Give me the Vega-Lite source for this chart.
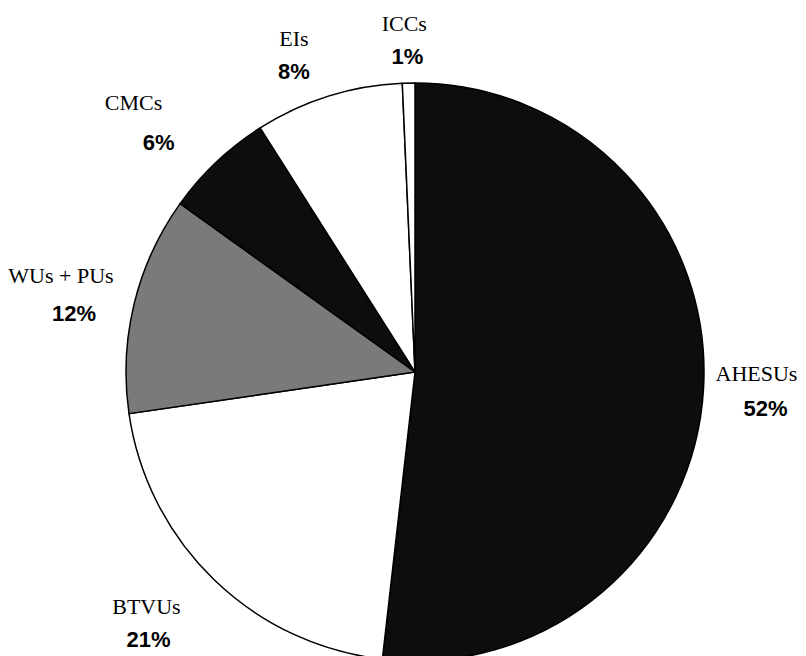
{
  "$schema": "https://vega.github.io/schema/vega-lite/v6.json",
  "width": 782,
  "height": 568,
  "autosize": "none",
  "padding": {"left": 24, "top": 88, "right": 0, "bottom": 0},
  "background": "white",
  "config": {"view": {"stroke": null}},
  "data": {"values": [
    {"rank": 1, "category": "AHESUs", "value": 51.8, "label": "52%"},
    {"rank": 2, "category": "BTVUs", "value": 20.9, "label": "21%"},
    {"rank": 3, "category": "WUs + PUs", "value": 12.2, "label": "12%"},
    {"rank": 4, "category": "CMCs", "value": 6.1, "label": "6%"},
    {"rank": 5, "category": "EIs", "value": 8.3, "label": "8%"},
    {"rank": 6, "category": "ICCs", "value": 0.7, "label": "1%"}
  ]},
  "encoding": {
    "theta": {"field": "value", "type": "quantitative", "stack": true},
    "order": {"field": "rank", "type": "quantitative"}
  },
  "layer": [
    {
      "mark": {"type": "arc", "radius": 289, "stroke": "black", "strokeWidth": 1.5},
      "encoding": {
        "fill": {
          "field": "category",
          "type": "nominal",
          "scale": {
            "domain": ["AHESUs", "BTVUs", "WUs + PUs", "CMCs", "EIs", "ICCs"],
            "range": ["#0d0d0d", "#ffffff", "#7a7a7a", "#0d0d0d", "#ffffff", "#ffffff"]
          },
          "legend": null
        }
      }
    },
    {
      "mark": {"type": "text", "radius": 350, "dx": -8, "dy": -18, "font": "Liberation Serif", "fontSize": 22, "color": "black"},
      "encoding": {"text": {"condition": {"test": "datum.category === 'AHESUs'", "field": "category"}, "value": ""}}
    },
    {
      "mark": {"type": "text", "radius": 350, "dx": 1, "dy": 17, "font": "Liberation Sans", "fontSize": 22, "fontWeight": "bold", "color": "black"},
      "encoding": {"text": {"condition": {"test": "datum.category === 'AHESUs'", "field": "label"}, "value": ""}}
    },
    {
      "mark": {"type": "text", "radius": 350, "dx": -25, "dy": -16, "font": "Liberation Serif", "fontSize": 22, "color": "black"},
      "encoding": {"text": {"condition": {"test": "datum.category === 'BTVUs'", "field": "category"}, "value": ""}}
    },
    {
      "mark": {"type": "text", "radius": 350, "dx": -23, "dy": 17, "font": "Liberation Sans", "fontSize": 22, "fontWeight": "bold", "color": "black"},
      "encoding": {"text": {"condition": {"test": "datum.category === 'BTVUs'", "field": "label"}, "value": ""}}
    },
    {
      "mark": {"type": "text", "radius": 350, "dx": -14, "dy": -13, "font": "Liberation Serif", "fontSize": 22, "color": "black"},
      "encoding": {"text": {"condition": {"test": "datum.category === 'WUs + PUs'", "field": "category"}, "value": ""}}
    },
    {
      "mark": {"type": "text", "radius": 350, "dx": -1, "dy": 25, "font": "Liberation Sans", "fontSize": 22, "fontWeight": "bold", "color": "black"},
      "encoding": {"text": {"condition": {"test": "datum.category === 'WUs + PUs'", "field": "label"}, "value": ""}}
    },
    {
      "mark": {"type": "text", "radius": 350, "dx": -41, "dy": -15, "font": "Liberation Serif", "fontSize": 22, "color": "black"},
      "encoding": {"text": {"condition": {"test": "datum.category === 'CMCs'", "field": "category"}, "value": ""}}
    },
    {
      "mark": {"type": "text", "radius": 350, "dx": -16, "dy": 25, "font": "Liberation Sans", "fontSize": 22, "fontWeight": "bold", "color": "black"},
      "encoding": {"text": {"condition": {"test": "datum.category === 'CMCs'", "field": "label"}, "value": ""}}
    },
    {
      "mark": {"type": "text", "radius": 350, "dx": -16, "dy": 1, "font": "Liberation Serif", "fontSize": 22, "color": "black"},
      "encoding": {"text": {"condition": {"test": "datum.category === 'EIs'", "field": "category"}, "value": ""}}
    },
    {
      "mark": {"type": "text", "radius": 350, "dx": -16, "dy": 34, "font": "Liberation Sans", "fontSize": 22, "fontWeight": "bold", "color": "black"},
      "encoding": {"text": {"condition": {"test": "datum.category === 'EIs'", "field": "label"}, "value": ""}}
    },
    {
      "mark": {"type": "text", "radius": 350, "dx": -3, "dy": 2, "font": "Liberation Serif", "fontSize": 22, "color": "black"},
      "encoding": {"text": {"condition": {"test": "datum.category === 'ICCs'", "field": "category"}, "value": ""}}
    },
    {
      "mark": {"type": "text", "radius": 350, "dx": 0, "dy": 35, "font": "Liberation Sans", "fontSize": 22, "fontWeight": "bold", "color": "black"},
      "encoding": {"text": {"condition": {"test": "datum.category === 'ICCs'", "field": "label"}, "value": ""}}
    }
  ]
}
